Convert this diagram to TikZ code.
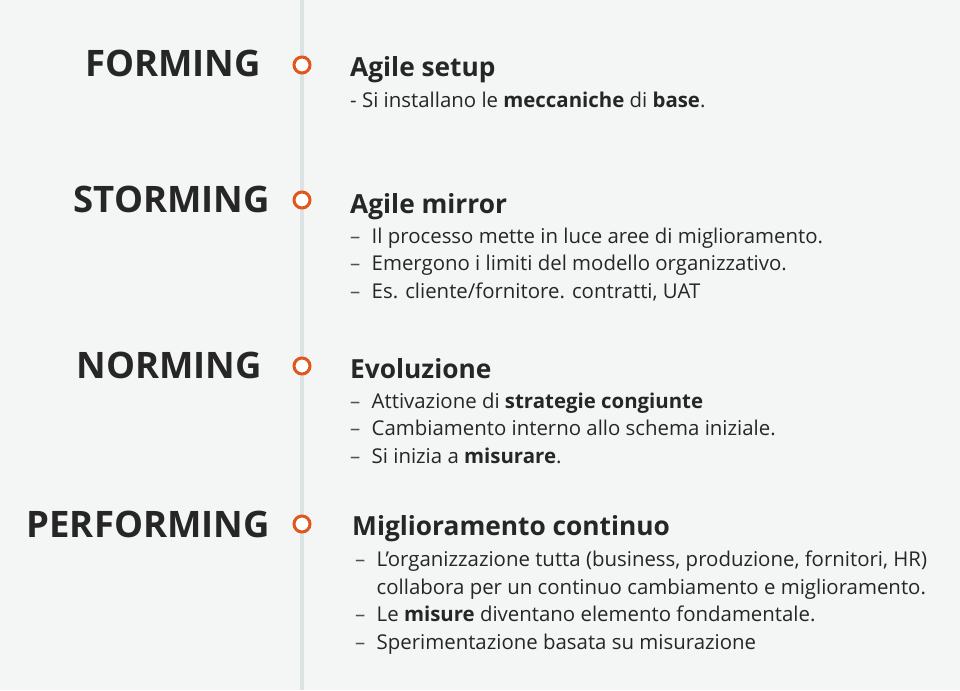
\documentclass[tikz,border=0pt]{standalone}
\usepackage{fontspec}
\setmainfont{Open Sans}
\definecolor{bgc}{HTML}{F4F5F5}
\definecolor{linec}{HTML}{DDE2E3}
\definecolor{orangec}{HTML}{E0561B}
\definecolor{txtc}{HTML}{262626}
\begin{document}
\begin{tikzpicture}[x=1pt,y=-1pt,
  stage/.style={anchor=base east,inner sep=0pt,text=txtc,font=\fontsize{36.5}{42}\selectfont\bfseries},
  ttl/.style={anchor=base west,inner sep=0pt,text=txtc,font=\fontsize{26.3}{30}\selectfont\bfseries},
  body/.style={anchor=base west,inner sep=0pt,text=txtc,font=\fontsize{20.4}{24}\selectfont},
  dsh/.style={anchor=base west,inner sep=0pt,text=txtc!80,font=\fontsize{20.4}{24}\selectfont},
  dot/.style={circle,draw=orangec,fill=white,line width=3pt,minimum size=16pt,inner sep=0pt}]
\fill[bgc] (0,0) rectangle (960,690);
\useasboundingbox (0,0) rectangle (960,690);
\coordinate (top) at (302,0);
\coordinate (bot) at (302,690);
\draw[linec,line width=4.5pt] (top) -- (bot);
% circles
\node[dot] (c1) at (302,65) {};
\node[dot] (c2) at (302,200) {};
\node[dot] (c3) at (302,366) {};
\node[dot] (c4) at (302,524) {};
% stages
\node[stage] (s1) at (261,77) {FORMING};
\node[stage] (s2) at (270,212) {STORMING};
\node[stage] (s3) at (262,378) {NORMING};
\node[stage] (s4) at (270,537) {PERFORMING};
% forming
\node[ttl] (t1) at (350,77) {Agile setup};
\node[body] (b11) at (350,108) {- Si installano le \textbf{meccaniche} di \textbf{base}.};
% storming
\node[ttl] (t2) at (350,213) {Agile mirror};
\node[dsh] (d21) at (350,243) {–};
\node[body] (b21) at (371.5,243) {Il processo mette in luce aree di miglioramento.};
\node[dsh] (d22) at (350,270.5) {–};
\node[body] (b22) at (371.5,270.5) {Emergono i limiti del modello organizzativo.};
\node[dsh] (d23) at (350,298) {–};
\node[body] (b23) at (371.5,298) {Es. cliente/fornitore. contratti, UAT};
% norming
\node[ttl] (t3) at (350,378) {Evoluzione};
\node[dsh] (d31) at (350,408) {–};
\node[body] (b31) at (371.5,408) {Attivazione di \textbf{strategie congiunte}};
\node[dsh] (d32) at (350,435.5) {–};
\node[body] (b32) at (371.5,435.5) {Cambiamento interno allo schema iniziale.};
\node[dsh] (d33) at (350,463) {–};
\node[body] (b33) at (371.5,463) {Si inizia a \textbf{misurare}.};
% performing
\node[ttl] (t4) at (352,535) {Miglioramento continuo};
\node[dsh] (d41) at (355,566.5) {–};
\node[body] (b41) at (376.5,566.5) {L’organizzazione tutta (business, produzione, fornitori, HR)};
\node[body] (b41b) at (376.5,594) {collabora per un continuo cambiamento e miglioramento.};
\node[dsh] (d42) at (355,621.5) {–};
\node[body] (b42) at (376.5,621.5) {Le \textbf{misure} diventano elemento fondamentale.};
\node[dsh] (d43) at (355,649) {–};
\node[body] (b43) at (376.5,649) {Sperimentazione basata su misurazione};
\end{tikzpicture}
\end{document}
